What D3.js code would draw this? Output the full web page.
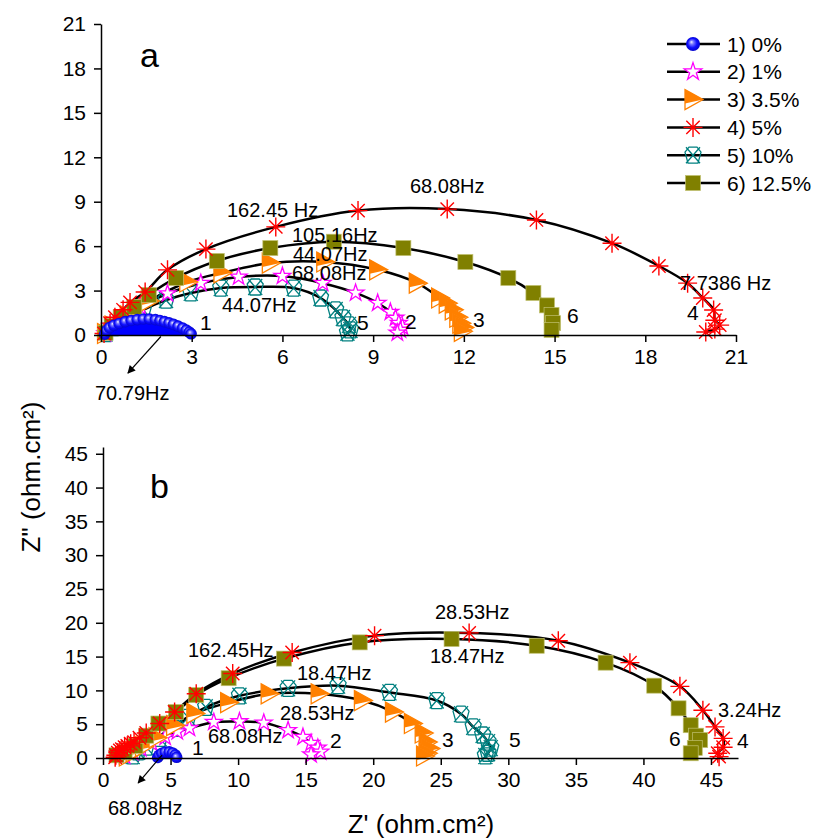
<!DOCTYPE html>
<html>
<head>
<meta charset="utf-8">
<script src="https://cdn.jsdelivr.net/npm/d3@7"></script>
<style>
  body { margin: 0; background: #fff; }
  svg text { font-family: "Liberation Sans", Arial, sans-serif; fill: #000; }
  .axis path, .axis line { stroke: #000; stroke-width: 1.5; }
  .axis text { font-size: 21px; }
</style>
</head>
<body>
<div id="chart"></div>
<script>
// Nyquist data, [Z', Z''] in ohm.cm2, high -> low frequency

// panel a
const a1 = [[0.12,0.05],[0.18,0.3],[0.28,0.5],[0.42,0.65],[0.6,0.78],[0.8,0.9],[1.0,0.98],[1.2,1.04],[1.4,1.08],[1.6,1.08],[1.8,1.04],[1.95,0.98],[2.1,0.9],[2.25,0.82],[2.4,0.72],[2.55,0.6],[2.7,0.47],[2.82,0.33],[2.92,0.2],[2.98,0.08]];
const a2 = [[0.15,0.1],[0.4,0.6],[0.8,1.2],[1.3,1.9],[2.2,2.8],[3.3,3.5],[4.55,3.92],[6.0,3.98],[7.33,3.5],[8.42,2.84],[9.15,2.16],[9.57,1.55],[9.74,1.15],[9.85,0.8],[9.97,0.54],[9.9,0.34],[9.8,0.15]];
const a3 = [[0.15,0.1],[0.4,0.6],[0.9,1.3],[1.6,2.3],[2.87,3.58],[4.0,4.2],[5.6,4.86],[7.4,4.93],[9.15,4.4],[10.46,3.5],[11.2,2.5],[11.45,2.15],[11.65,1.7],[11.8,1.2],[11.9,0.8],[12.0,0.5],[11.95,0.25]];
const a4 = [[0.1,0.1],[0.3,0.8],[0.46,1.2],[0.73,1.7],[0.96,2.2],[1.46,2.9],[2.2,4.4],[3.47,5.8],[5.78,7.3],[8.5,8.4],[11.45,8.5],[14.4,7.77],[16.9,6.2],[18.45,4.66],[19.4,3.5],[19.9,2.5],[20.26,1.69],[20.3,1.0],[20.46,0.67],[20.3,0.4],[20.0,0.2]];
const a5 = [[0.15,0.1],[0.4,0.5],[0.8,1.0],[1.4,1.7],[2.15,2.36],[2.97,2.84],[3.96,3.17],[5.1,3.24],[6.37,3.17],[7.26,2.5],[7.76,1.69],[8.0,1.15],[8.2,0.68],[8.25,0.34],[8.15,0.15]];
const a6 = [[0.15,0.15],[0.35,0.6],[0.65,1.2],[1.1,1.9],[1.58,2.7],[2.48,3.85],[3.83,5.0],[5.6,5.87],[7.7,6.3],[10.0,5.87],[12.05,4.93],[13.47,3.85],[14.3,2.84],[14.75,2.0],[14.9,1.35],[14.95,0.8],[14.9,0.34]];

// panel b
const b1 = [[4.05,0.08],[4.15,0.4],[4.35,0.7],[4.6,0.88],[4.9,0.9],[5.15,0.75],[5.35,0.45],[5.45,0.1]];
const b2 = [[1.6,0.3],[2.2,0.8],[2.8,1.4],[3.6,2.2],[4.6,3.1],[5.5,3.9],[6.4,4.4],[8.2,5.3],[10.1,5.4],[11.9,5.2],[13.7,4.1],[14.8,3.1],[15.4,2.2],[15.9,1.5],[16.1,0.9],[15.4,0.5]];
const b3 = [[1.8,0.3],[2.3,0.9],[3.0,1.7],[4.0,3.0],[5.3,4.8],[6.8,6.6],[9.3,8.2],[12.3,9.5],[16.0,9.5],[19.2,8.5],[21.5,6.8],[22.9,5.1],[23.7,3.7],[24.0,2.35],[24.2,1.4],[24.0,0.7],[23.8,0.3]];
const b4 = [[0.9,0.1],[0.95,0.4],[1.1,0.8],[1.25,1.1],[1.4,1.3],[1.6,1.6],[1.8,1.8],[2.05,2.1],[2.3,2.35],[2.7,3.0],[3.2,3.7],[4.2,5.1],[5.3,6.8],[6.9,9.5],[9.6,12.5],[14.0,15.6],[20.1,18.1],[27.1,18.5],[33.7,17.35],[39.0,14.1],[42.7,10.6],[44.4,7.06],[45.3,4.6],[45.9,2.9],[45.9,1.6],[45.5,0.7],[45.6,0.2]];
const b5 = [[2.2,0.3],[2.6,0.9],[3.2,1.6],[4.2,2.9],[5.3,4.4],[6.3,6.0],[7.6,7.5],[10.1,9.2],[13.7,10.3],[17.4,10.7],[21.2,9.7],[24.7,8.5],[26.5,6.5],[27.4,4.6],[28.1,3.4],[28.5,2.35],[28.7,1.47],[28.5,0.7],[28.3,0.3]];
const b6 = [[1.0,0.4],[1.6,0.9],[2.4,1.8],[3.2,3.3],[4.1,5.1],[5.4,6.8],[6.9,9.3],[9.3,11.8],[13.4,14.7],[19.0,17.1],[25.8,17.6],[32.1,16.6],[37.2,14.1],[40.8,10.7],[42.6,7.35],[43.5,4.85],[43.9,3.3],[44.2,2.65],[43.8,1.5],[43.5,0.7]];

const seriesNames = ['1) 0%', '2) 1%', '3) 3.5%', '4) 5%', '5) 10%', '6) 12.5%'];
const ticksA = [0, 3, 6, 9, 12, 15, 18, 21];
const ticksB = [0, 5, 10, 15, 20, 25, 30, 35, 40, 45];

const W = 817, H = 839;
const symbols = ['sphere', 'star', 'tri', 'ast', 'cross', 'sq'];
const drawOrder = [4, 1, 2, 5, 3, 0];

const svg = d3.select('#chart').append('svg')
    .attr('width', W)
    .attr('height', H);

const defs = svg.append('defs');
const grad = defs.append('radialGradient')
    .attr('id', 'sphere')
    .attr('cx', '50%').attr('cy', '50%').attr('r', '55%')
    .attr('fx', '38%').attr('fy', '35%');
grad.append('stop').attr('offset', '0%').attr('stop-color', '#f4f4ff');
grad.append('stop').attr('offset', '25%').attr('stop-color', '#7a7aff');
grad.append('stop').attr('offset', '60%').attr('stop-color', '#1010ff');
grad.append('stop').attr('offset', '100%').attr('stop-color', '#0000c0');

defs.append('marker')
    .attr('id', 'arrow')
    .attr('viewBox', '0 0 10 10')
    .attr('refX', 9).attr('refY', 5)
    .attr('markerWidth', 10).attr('markerHeight', 8)
    .attr('markerUnits', 'userSpaceOnUse')
    .attr('orient', 'auto')
  .append('path')
    .attr('d', 'M0,0 L10,5 L0,10 z')
    .attr('fill', '#000');

// one marker glyph at (0,0)
function drawSymbol(g, type, big) {
    if (type === 'sphere') {
        g.append('circle').attr('r', big ? 7 : 5.8).attr('fill', 'url(#sphere)');
    } else if (type === 'star') {
        g.append('path')
            .attr('d', d3.symbol().type(d3.symbolStar).size(big ? 95 : 88)())
            .attr('fill', '#fff').attr('stroke', '#ff00ff').attr('stroke-width', 1.3);
    } else if (type === 'tri') {
        g.append('path').attr('d', 'M-8,-10 L10,0 L-8,10 Z')
            .attr('fill', '#fff').attr('stroke', '#ff8000').attr('stroke-width', 1.3);
        g.append('path').attr('d', 'M-8,-10 L10,0 L-8,4 Z')
            .attr('fill', '#ff8000');
    } else if (type === 'ast') {
        g.append('path')
            .attr('d', 'M-9.5,0 L9.5,0 M0,-9.5 L0,9.5 M-6.7,-6.7 L6.7,6.7 M6.7,-6.7 L-6.7,6.7')
            .attr('stroke', '#ff0000').attr('stroke-width', 1.4).attr('fill', 'none');
    } else if (type === 'cross') {
        g.append('path')
            .attr('d', 'M-7,-8 L7,8 M7,-8 L-7,8 M-4,-8 L4,-8 L8,-3 L5,8 L-5,8 L-8,-3 Z')
            .attr('stroke', '#008080').attr('stroke-width', 1.3).attr('fill', 'none');
    } else if (type === 'sq') {
        g.append('rect').attr('x', -7.5).attr('y', -7.5).attr('width', 15).attr('height', 15)
            .attr('fill', '#808000').attr('stroke', '#c0c070').attr('stroke-width', 0.7);
    }
}

function drawPanel(data, x, y, xt, yt) {
    const g = svg.append('g');

    // fitted lines through the points
    const line = d3.line()
        .x(d => x(d[0])).y(d => y(d[1]))
        .curve(d3.curveCatmullRom.alpha(0.5));
    data.forEach((s, i) => {
        if (i === 0) return;
        g.append('path')
            .attr('d', line(s))
            .attr('fill', 'none')
            .attr('stroke', '#000')
            .attr('stroke-width', 2.5);
    });

    drawOrder.forEach(i => {
        if (i === 0) {
            const area = d3.area()
                .x(d => x(d[0])).y0(y(0)).y1(d => y(d[1]))
                .curve(d3.curveCatmullRom.alpha(0.5));
            g.append('path').attr('d', area(data[0])).attr('fill', '#0000ff');
        }
        data[i].forEach(d => {
            const m = g.append('g').attr('transform', `translate(${x(d[0])},${y(d[1])})`);
            drawSymbol(m, symbols[i], false);
        });
    });

    // axes
    g.append('g').attr('class', 'axis')
        .attr('transform', `translate(0,${y(0)})`)
        .call(d3.axisBottom(x).tickValues(xt).tickSize(7).tickSizeOuter(0).tickPadding(7));
    g.append('g').attr('class', 'axis')
        .attr('transform', `translate(${x(0)},0)`)
        .call(d3.axisLeft(y).tickValues(yt).tickSize(7).tickSizeOuter(0).tickPadding(8));
    return g;
}

// panel a
const xA = d3.scaleLinear().domain([0, 21]).range([101, 736]);
const yA = d3.scaleLinear().domain([0, 21]).range([335, 24]);
drawPanel([a1, a2, a3, a4, a5, a6], xA, yA, ticksA, ticksA);

// panel b
const xB = d3.scaleLinear().domain([0, 47]).range([103, 738]);
const yB = d3.scaleLinear().domain([0, 46]).range([758, 447]);
drawPanel([b1, b2, b3, b4, b5, b6], xB, yB, ticksB, ticksB);

// annotations
function label(txt, px, py, size) {
    svg.append('text')
        .attr('x', px).attr('y', py)
        .style('font-size', (size || 20) + 'px')
        .text(txt);
}

label('a', 140, 67, 34);
label('162.45 Hz', 227, 217);
label('68.08Hz', 410, 193);
label('105.16Hz', 292, 242);
label('44.07Hz', 293, 261);
label('68.08Hz', 292, 280);
label('44.07Hz', 222, 312);
label('7.7386 Hz', 680, 290);
label('4', 687, 320, 21);
label('6', 567, 323, 21);
label('3', 473, 327, 21);
label('5', 357, 330, 21);
label('2', 405, 329, 21);
label('1', 200, 330, 21);
label('70.79Hz', 95, 400);

label('b', 150, 498, 34);
label('162.45Hz', 188, 657);
label('18.47Hz', 297, 680);
label('28.53Hz', 280, 720);
label('68.08Hz', 208, 743);
label('28.53Hz', 435, 619);
label('18.47Hz', 430, 663);
label('3.24Hz', 718, 717);
label('1', 192, 755, 21);
label('2', 330, 748, 21);
label('3', 442, 747, 21);
label('5', 509, 747, 21);
label('6', 669, 746, 21);
label('4', 737, 748, 21);
label('68.08Hz', 108, 815);

svg.append('line')
    .attr('x1', xA(1.98)).attr('y1', yA(-0.1))
    .attr('x2', xA(0.89)).attr('y2', yA(-2.57))
    .attr('stroke', '#000').attr('stroke-width', 1.2)
    .attr('marker-end', 'url(#arrow)');
svg.append('line')
    .attr('x1', xB(4.37)).attr('y1', yB(0.44))
    .attr('x2', xB(2.6)).attr('y2', yB(-3.7))
    .attr('stroke', '#000').attr('stroke-width', 1.2)
    .attr('marker-end', 'url(#arrow)');

// axis titles
svg.append('text')
    .attr('x', 421).attr('y', 833)
    .attr('text-anchor', 'middle')
    .style('font-size', '26px')
    .text('Z\' (ohm.cm²)');
svg.append('text')
    .attr('transform', 'translate(40,477) rotate(-90)')
    .attr('text-anchor', 'middle')
    .style('font-size', '26px')
    .text('Z" (ohm.cm²)');

// legend
const legend = svg.append('g').attr('transform', 'translate(667,44)');
seriesNames.forEach((name, i) => {
    const row = legend.append('g').attr('transform', `translate(0,${i * 27.8})`);
    row.append('line').attr('x1', 0).attr('x2', 53)
        .attr('stroke', '#000').attr('stroke-width', 2.5);
    drawSymbol(row.append('g').attr('transform', 'translate(26,0)'), symbols[i], true);
    row.append('text').attr('x', 60).attr('y', 7.5)
        .style('font-size', '21px')
        .text(name);
});
</script>
</body>
</html>
